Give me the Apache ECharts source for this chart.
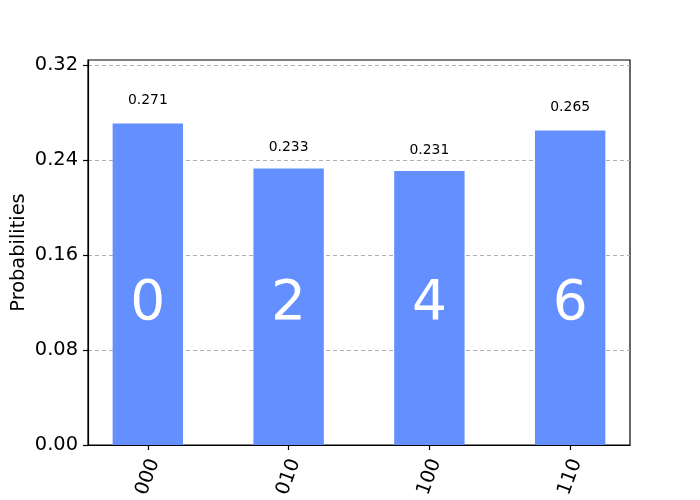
<!DOCTYPE html>
<html>
<head>
<meta charset="utf-8">
<script src="https://cdn.jsdelivr.net/npm/echarts@6/dist/echarts.min.js"></script>
<style>html,body{margin:0;padding:0;background:#fff}#c{width:700px;height:500px}</style>
</head>
<body>
<div id="c"></div>
<script>
const categories = ['000', '010', '100', '110'];
const probabilities = [0.271, 0.233, 0.231, 0.265];
const barDigits = ['0', '2', '4', '6'];
const yTicks = [0, 0.08, 0.16, 0.24, 0.32];
const xPositions = [0, 1, 2, 3];

const yMax = 0.3245;
const plotH = 385;
const font = 'DejaVu Sans';

const chart = echarts.init(document.getElementById('c'), null, {renderer: 'canvas'});
chart.setOption({
  animation: false,
  backgroundColor: '#ffffff',
  grid: {left: 88, right: 70, top: 60, bottom: 55, containLabel: false, outerBoundsMode: 'none', show: true, borderColor: '#000', borderWidth: 1.2, backgroundColor: 'transparent'},
  xAxis: {
    type: 'value', min: -0.425, max: 3.425,
    splitLine: {show: false},
    axisLine: {show: true, onZero: false, lineStyle: {color: '#000', width: 1.2}},
    axisTick: {show: true, length: 5, lineStyle: {color: '#000', width: 1.2}, customValues: xPositions},
    axisLabel: {
      customValues: xPositions, rotate: 70, align: 'center', verticalAlign: 'middle', margin: 32,
      fontFamily: font, fontSize: 19.4, color: '#000',
      formatter: v => categories[Math.round(v)]
    }
  },
  yAxis: {
    type: 'value', min: 0, max: yMax, interval: 0.08,
    name: 'Probabilities', nameLocation: 'middle', nameGap: 60, nameMoveOverlap: false,
    nameTextStyle: {fontFamily: font, fontSize: 19.4, color: '#000'},
    axisLine: {show: true, onZero: false, lineStyle: {color: '#000', width: 1.2}},
    axisTick: {show: true, length: 5, lineStyle: {color: '#000', width: 1.2}, customValues: yTicks},
    axisLabel: {customValues: yTicks, margin: 10, fontFamily: font, fontSize: 19.4, color: '#000', formatter: v => v.toFixed(2)},
    splitLine: {show: true, lineStyle: {color: '#b0b0b0', type: [4, 3], width: 1}}
  },
  series: [
    {
      type: 'bar', barWidth: 70.4,
      data: probabilities.map((v, i) => ({
        value: [xPositions[i], v],
        label: {distance: 0.05 * v * plotH / yMax}
      })),
      itemStyle: {color: '#648fff'},
      label: {show: true, position: 'top', fontFamily: font, fontSize: 13.9, color: '#000', formatter: p => p.value[1].toFixed(3)},
      z: 2
    },
    {
      type: 'bar', barWidth: 70.4, barGap: '-100%',
      data: probabilities.map((v, i) => [xPositions[i], v]),
      itemStyle: {color: 'rgba(0,0,0,0)'},
      label: {show: true, position: 'insideBottom', distance: 113, fontFamily: font, fontSize: 55, lineHeight: 55, color: '#fff', formatter: p => barDigits[p.dataIndex]},
      z: 3
    }
  ]
});
</script>
</body>
</html>
